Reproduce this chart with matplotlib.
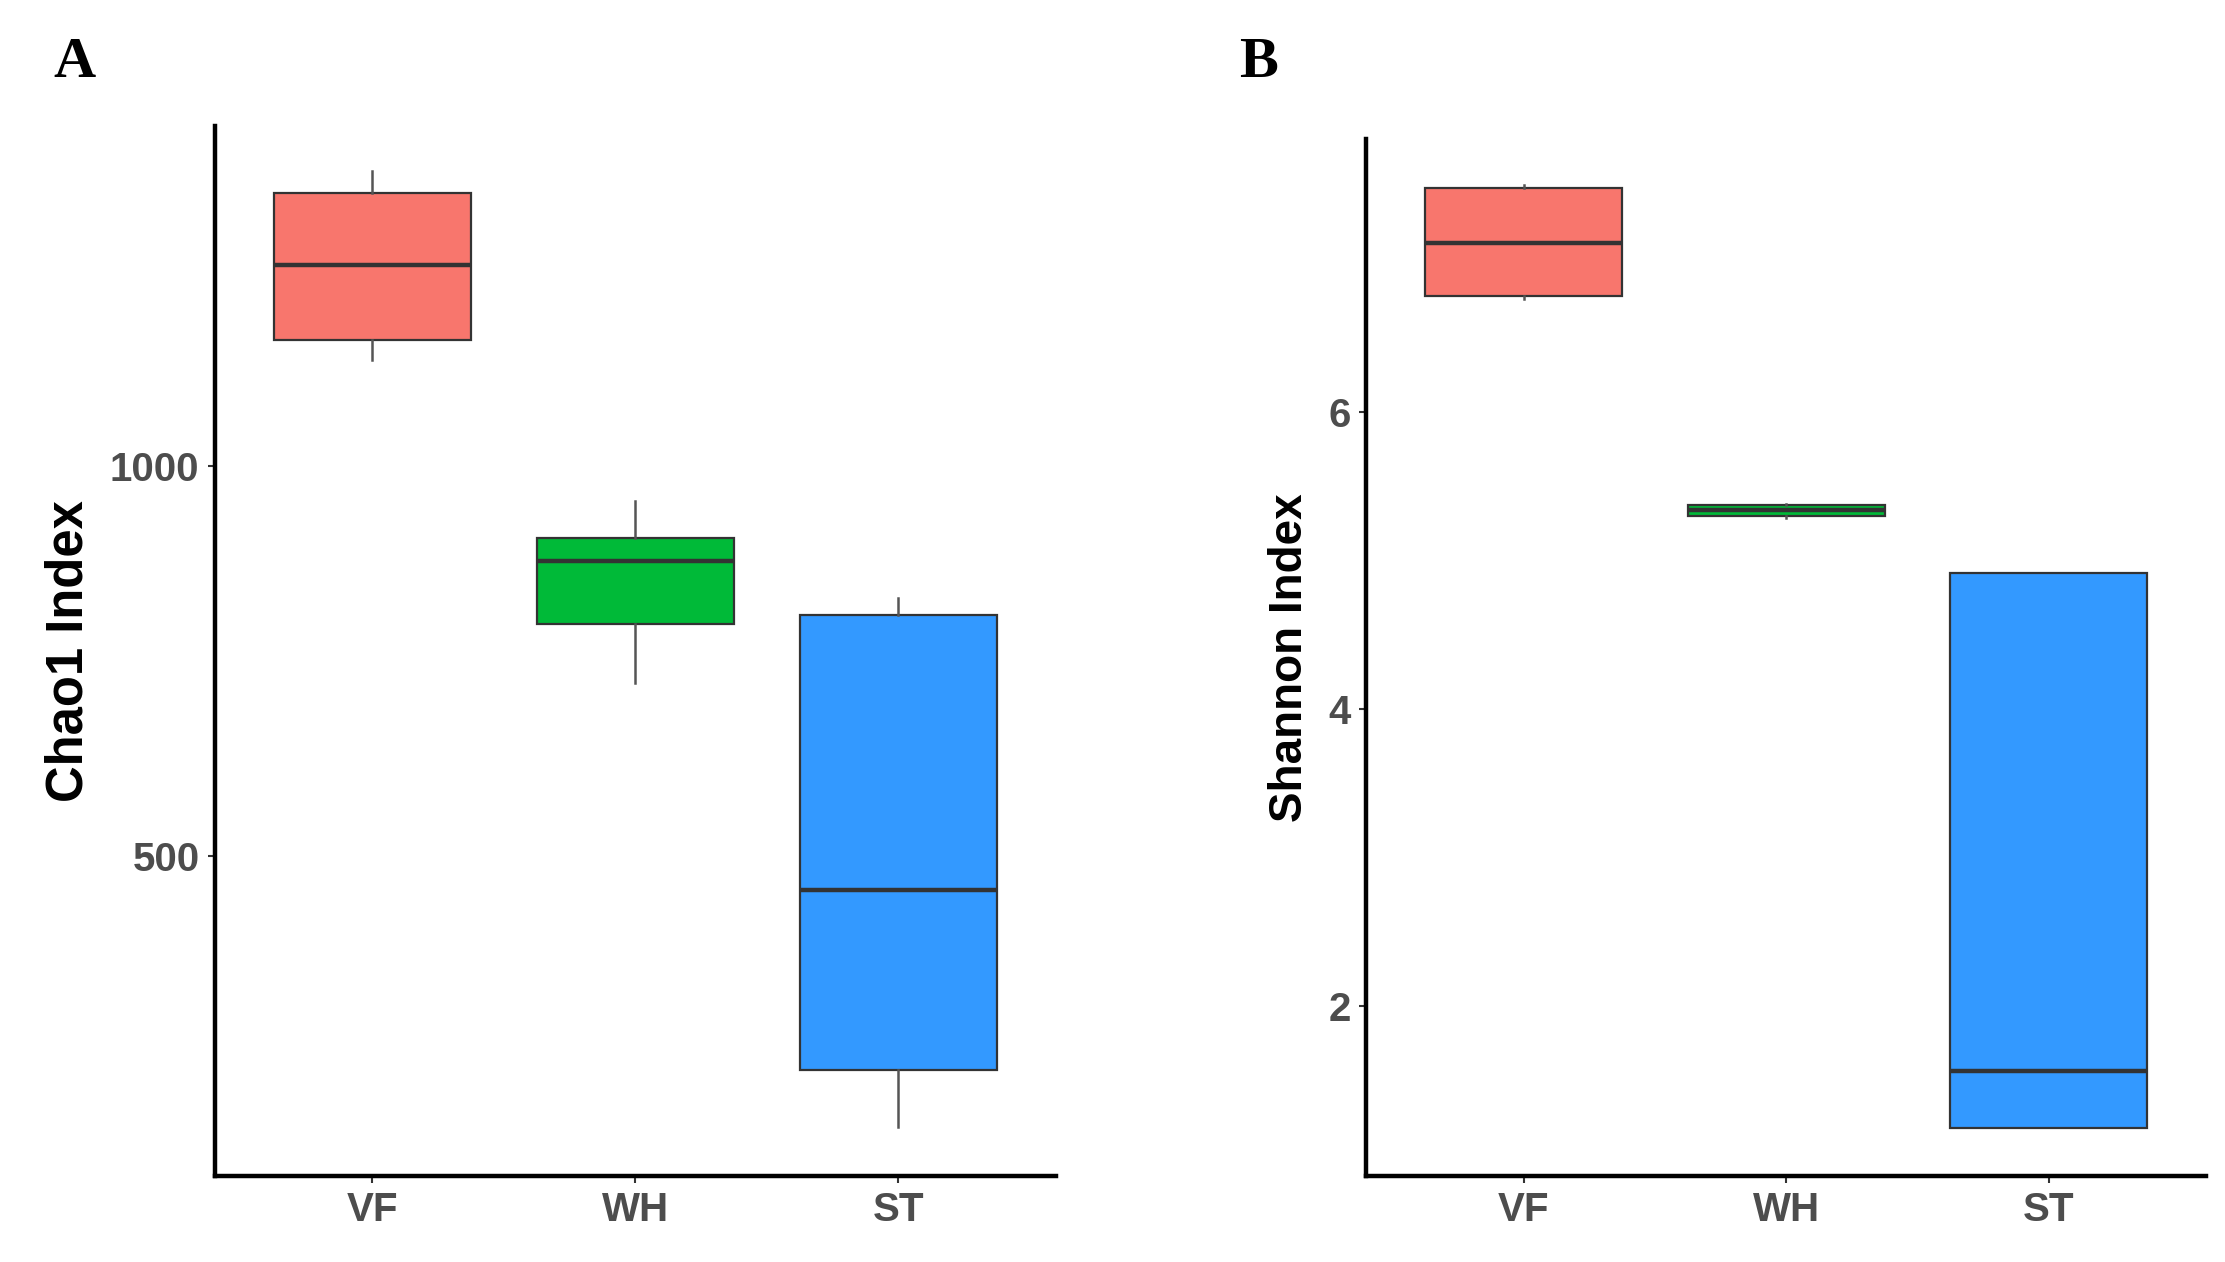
import matplotlib
matplotlib.use("Agg")
import matplotlib.pyplot as plt

categories = ["VF", "WH", "ST"]
colors = ["#F8766D", "#00BA38", "#3399FF"]

# Chao1 index: whisker low, Q1, median, Q3, whisker high
chao1_whislo = [1136, 721, 151]
chao1_q1 = [1162, 798, 224]
chao1_med = [1259, 879, 456]
chao1_q3 = [1351, 908, 809]
chao1_whishi = [1380, 956, 831]

# Shannon index
shannon_whislo = [6.76, 5.29, 1.18]
shannon_q1 = [6.78, 5.30, 1.18]
shannon_med = [7.14, 5.34, 1.567]
shannon_q3 = [7.51, 5.375, 4.92]
shannon_whishi = [7.53, 5.38, 4.92]

chao1_ticks = [500, 1000]
shannon_ticks = [2, 4, 6]

plt.rcParams['font.family'] = ['Liberation Sans', 'DejaVu Sans']

fig = plt.figure(figsize=(22.25, 12.62), dpi=100)
axA = fig.add_axes([0.0965, 0.068, 0.3781, 0.832])
axB = fig.add_axes([0.614, 0.068, 0.3776, 0.822])


def draw(ax, lo, q1, med, q3, hi, ylim, ticks, ylabel, ylsize):
    stats = []
    for i, c in enumerate(categories):
        stats.append(dict(label=c, whislo=lo[i], q1=q1[i], med=med[i],
                          q3=q3[i], whishi=hi[i], fliers=[]))
    pos = list(range(1, len(categories) + 1))
    bp = ax.bxp(stats, positions=pos, widths=0.75, patch_artist=True,
                showcaps=False,
                boxprops=dict(edgecolor="#333333", linewidth=1.6),
                medianprops=dict(color="#333333", linewidth=3.2),
                whiskerprops=dict(color="#555555", linewidth=1.8))
    for patch, col in zip(bp['boxes'], colors):
        patch.set_facecolor(col)
    ax.set_xlim(0.4, 3.6)
    ax.set_ylim(*ylim)
    ax.set_yticks(ticks)
    ax.set_yticklabels([str(t) for t in ticks])
    for s in ["top", "right"]:
        ax.spines[s].set_visible(False)
    for s in ["left", "bottom"]:
        ax.spines[s].set_linewidth(3.2)
        ax.spines[s].set_color("black")
    ax.tick_params(axis="both", length=5, width=1.5, color="#333333",
                   labelsize=29, labelcolor="#4D4D4D", pad=6)
    for lab in ax.get_xticklabels() + ax.get_yticklabels():
        lab.set_fontweight("bold")
    ax.set_ylabel(ylabel, fontsize=ylsize, fontweight="bold", color="black",
                  labelpad=12)


draw(axA, chao1_whislo, chao1_q1, chao1_med, chao1_q3, chao1_whishi,
     (88, 1437), chao1_ticks, "Chao1 Index", 36.5)
draw(axB, shannon_whislo, shannon_q1, shannon_med, shannon_q3, shannon_whishi,
     (0.856, 7.84), shannon_ticks, "Shannon Index", 33)

fig.text(0.024, 0.95, "A", fontsize=42, fontweight="bold",
         family=["Liberation Serif"], va="center", ha="left")
fig.text(0.557, 0.95, "B", fontsize=42, fontweight="bold",
         family=["Liberation Serif"], va="center", ha="left")

fig.savefig("out.png", dpi=100, facecolor="white")
